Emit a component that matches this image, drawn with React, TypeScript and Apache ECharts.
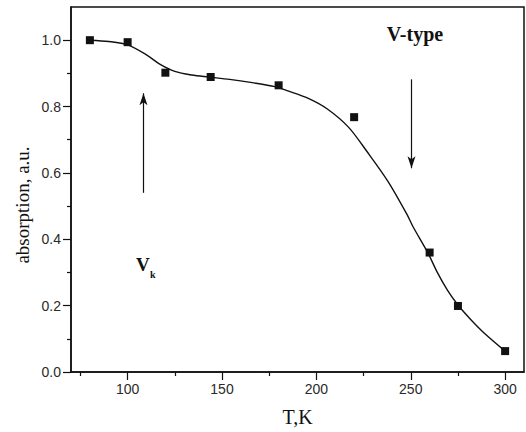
import React, { useEffect, useRef } from "react";
import * as echarts from "echarts";

// measured data points (T, absorption)
const pointData: [number, number][] = [
  [80, 1.0], [100, 0.994], [120, 0.902], [144, 0.889], [180, 0.864],
  [220, 0.768], [260, 0.36], [275, 0.199], [300, 0.063],
];

// fitted curve
const curveData: [number, number][] = [
  [80, 1.0], [90, 0.996], [100, 0.986], [110, 0.956], [117, 0.928],
  [125, 0.906], [134, 0.895], [143, 0.889], [154, 0.882], [166, 0.872],
  [178, 0.86], [185, 0.847], [196, 0.824], [206, 0.792], [217, 0.738],
  [227, 0.663], [238, 0.574], [248, 0.475], [251, 0.44], [259, 0.36],
  [264, 0.301], [269.5, 0.246], [275, 0.202], [282, 0.157], [289, 0.117],
  [300, 0.063],
];

const xMajorTicks = [100, 150, 200, 250, 300];
const xMinorTicks = [75, 125, 175, 225, 275];
const yMajorTicks = [0, 0.2, 0.4, 0.6, 0.8, 1.0];
const yMinorTicks = [0.1, 0.3, 0.5, 0.7, 0.9];

// arrows: [x, yFrom, yTo]
const arrowUp: [number, number, number] = [108.4, 0.54, 0.84];
const arrowDown: [number, number, number] = [250.4, 0.882, 0.614];

const INK = "#111111";
const SANS = "'Liberation Sans', Arial, sans-serif";
const SERIF = "'Liberation Serif', 'Times New Roman', serif";

export default function App() {
  const ref = useRef<HTMLDivElement>(null);
  useEffect(() => {
    if (!ref.current) return;
    const chart = echarts.init(ref.current, undefined, { renderer: "svg" });
    const axisCommon = {
      type: "value" as const,
      splitLine: { show: false },
    };
    chart.setOption({
      animation: false,
      backgroundColor: "#fff",
      grid: {
        left: 71, right: 2, top: 7, bottom: 56,
        show: true, borderColor: INK, borderWidth: 1.5,
      },
      xAxis: [
        {
          ...axisCommon,
          min: 70, max: 310,
          axisLine: { show: true, lineStyle: { color: INK, width: 1.5 } },
          axisTick: { show: true, customValues: xMajorTicks, length: 8, lineStyle: { color: INK, width: 1.2 } },
          axisLabel: {
            customValues: xMajorTicks, margin: 10,
            color: "#2a2a2a", fontFamily: SANS, fontSize: 14,
          },
          name: "T,K", nameLocation: "middle", nameGap: 35,
          nameTextStyle: { fontFamily: SERIF, fontSize: 20, color: INK },
        },
        {
          ...axisCommon,
          min: 70, max: 310, position: "bottom",
          axisLine: { show: false },
          axisTick: { show: true, customValues: xMinorTicks, length: 4, lineStyle: { color: INK, width: 1.2 } },
          axisLabel: { show: false },
        },
      ],
      yAxis: [
        {
          ...axisCommon,
          min: 0, max: 1.1,
          axisLine: { show: true, lineStyle: { color: INK, width: 1.5 } },
          axisTick: { show: true, customValues: yMajorTicks, length: 8, lineStyle: { color: INK, width: 1.2 } },
          axisLabel: {
            customValues: yMajorTicks, margin: 10,
            formatter: (v: number) => v.toFixed(1),
            color: "#2a2a2a", fontFamily: SANS, fontSize: 14,
          },
        },
        {
          ...axisCommon,
          min: 0, max: 1.1, position: "left",
          axisLine: { show: false },
          axisTick: { show: true, customValues: yMinorTicks, length: 4, lineStyle: { color: INK, width: 1.2 } },
          axisLabel: { show: false },
        },
      ],
      series: [
        {
          type: "line",
          data: curveData,
          smooth: 0.3,
          showSymbol: false,
          lineStyle: { color: INK, width: 1.4 },
          silent: true,
          z: 2,
        },
        {
          type: "scatter",
          data: pointData,
          symbol: "rect",
          symbolSize: 8,
          itemStyle: { color: INK, opacity: 1 },
          silent: true,
          z: 3,
          markLine: {
            silent: true,
            symbol: ["none", "arrow"],
            symbolSize: [6, 12],
            label: { show: false },
            lineStyle: { color: INK, width: 1.2, type: "solid", opacity: 1 },
            emphasis: { disabled: true },
            data: [
              [{ coord: [arrowUp[0], arrowUp[1]] }, { coord: [arrowUp[0], arrowUp[2]] }],
              [{ coord: [arrowDown[0], arrowDown[1]] }, { coord: [arrowDown[0], arrowDown[2]] }],
            ],
          },
        },
      ],
      graphic: [
        {
          type: "text", x: 22, y: 205, rotation: Math.PI / 2,
          style: {
            text: "absorption, a.u.", fontFamily: SERIF, fontSize: 19,
            fill: INK, align: "center", verticalAlign: "middle",
          },
        },
        {
          type: "text", x: 415, y: 33.5,
          style: {
            text: "V-type", fontFamily: SERIF, fontSize: 20, fontWeight: "bold",
            fill: INK, align: "center", verticalAlign: "middle",
          },
        },
        {
          type: "text", x: 136, y: 264,
          style: {
            text: "V", fontFamily: SERIF, fontSize: 19, fontWeight: "bold",
            fill: INK, align: "left", verticalAlign: "middle",
          },
        },
        {
          type: "text", x: 150, y: 274.5,
          style: {
            text: "k", fontFamily: SERIF, fontSize: 10, fontWeight: "bold",
            fill: INK, align: "left", verticalAlign: "middle",
          },
        },
      ],
    });
    return () => chart.dispose();
  }, []);
  return (
    <div
      ref={ref}
      style={{ position: "fixed", left: 0, top: 0, width: 526, height: 432, background: "#fff" }}
    />
  );
}
